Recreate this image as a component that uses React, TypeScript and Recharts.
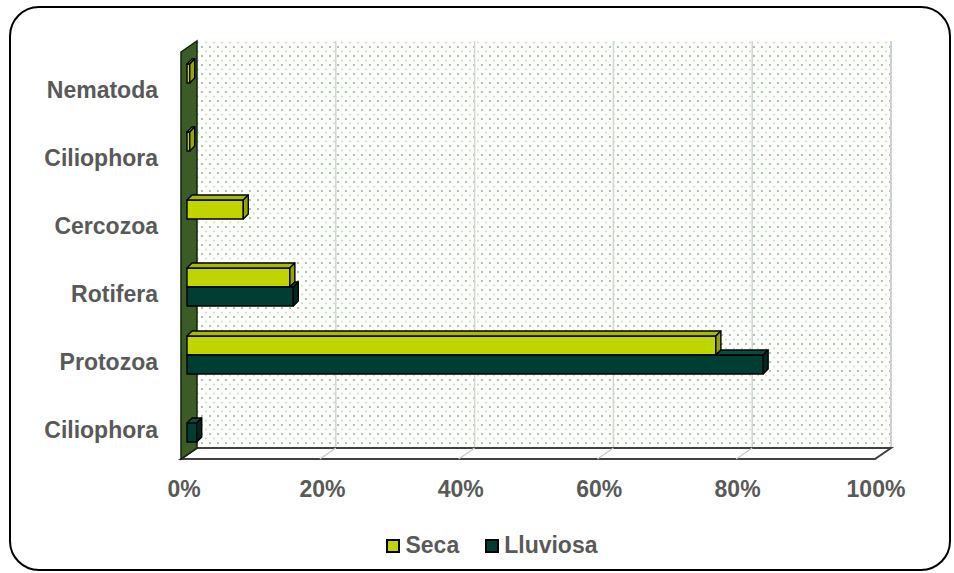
import React from 'react';
import { BarChart, Bar, XAxis, YAxis } from 'recharts';

const categories = ['Nematoda', 'Ciliophora', 'Cercozoa', 'Rotifera', 'Protozoa', 'Ciliophora'];
const seca = [0.4, 0.4, 8.1, 14.8, 76.1, 0];
const lluviosa = [0, 0, 0, 15.3, 82.9, 1.4];
const xTicks = [0, 20, 40, 60, 80, 100];
const seriesNames = ['Seca', 'Lluviosa'];

const data = categories.map((name, i) => ({ idx: i, name, seca: seca[i], lluviosa: lluviosa[i] }));

const FONT = '"Liberation Sans", Arial, sans-serif';
const LABEL = '#595959';

// front plane of the 3D box and its depth
const FRONT = { l: 181, t: 52, r: 875, b: 459 };
const DX = 16;
const DY = -11;
const BAR_D = 5;

const Walls = () => {
  const back = { l: FRONT.l + DX, t: FRONT.t + DY, r: FRONT.r + DX, b: FRONT.b + DY };
  const w = FRONT.r - FRONT.l;
  return (
    <g>
      <defs>
        <pattern id="dots" width="8" height="9" patternUnits="userSpaceOnUse">
          <circle cx="2" cy="2" r="1" fill="#86bd74" />
          <circle cx="6" cy="6.5" r="0.9" fill="#bcdcb0" />
        </pattern>
      </defs>
      <rect x={back.l} y={back.t} width={back.r - back.l} height={back.b - back.t} fill="url(#dots)" />
      {xTicks.slice(1, -1).map((t) => (
        <line key={t} x1={back.l + (w * t) / 100} x2={back.l + (w * t) / 100} y1={back.t} y2={back.b} stroke="#d4d4d4" strokeWidth={1.5} />
      ))}
      <line x1={back.r} x2={back.r} y1={back.t} y2={back.b} stroke="#d0d0d0" strokeWidth={2} />
      <polygon
        points={`${FRONT.l},${FRONT.b} ${back.l},${back.b} ${back.r},${back.b} ${FRONT.r},${FRONT.b}`}
        fill="#ffffff"
        stroke="#404040"
        strokeWidth={2}
      />
      {xTicks.slice(1, -1).map((t) => (
        <line
          key={'f' + t}
          x1={FRONT.l + (w * t) / 100}
          y1={FRONT.b}
          x2={back.l + (w * t) / 100}
          y2={back.b}
          stroke="#c8c8c8"
          strokeWidth={1.2}
        />
      ))}
      <polygon
        points={`${FRONT.l},${FRONT.t} ${back.l},${back.t} ${back.l},${back.b} ${FRONT.l},${FRONT.b}`}
        fill="#3b5b27"
        stroke="#15220c"
        strokeWidth={1.5}
      />
    </g>
  );
};

const Box3D = (props: any) => {
  const { x, y, width, height, front, top, side, cover } = props;
  if (!width || width <= 0.5) return null;
  const w = width;
  const h = height;
  let start = 0;
  let showTop = true;
  if (cover && props.payload) {
    const other = props.payload.seca;
    const own = props.payload.lluviosa;
    if (own > 0) start = Math.min(w, (w * other) / own);
    if (start >= w) showTop = false;
  }
  return (
    <g stroke="#000" strokeWidth={1.4} strokeLinejoin="round">
      <rect x={x} y={y} width={w} height={h} fill={front} />
      {showTop && (
        <polygon
          points={`${x + start},${y} ${x + start + BAR_D},${y - BAR_D} ${x + w + BAR_D},${y - BAR_D} ${x + w},${y}`}
          fill={top}
        />
      )}
      <polygon
        points={`${x + w},${y} ${x + w + BAR_D},${y - BAR_D} ${x + w + BAR_D},${y + h - BAR_D} ${x + w},${y + h}`}
        fill={side}
      />
    </g>
  );
};

const YTick = (props: any) => {
  const { x, y, payload } = props;
  return (
    <text x={x - 29} y={y + 15} textAnchor="end" fill={LABEL} fontSize={23} fontWeight="bold" fontFamily={FONT}>
      {categories[payload.value]}
    </text>
  );
};

const XTick = (props: any) => {
  const { x, y, payload } = props;
  return (
    <text x={x - 3 - (payload.value / 100) * 3} y={y + 40} textAnchor="middle" fill={LABEL} fontSize={23} fontWeight="bold" fontFamily={FONT}>
      {payload.value + '%'}
    </text>
  );
};

const legendColors = ['#c0d400', '#003d33'];

export default function App() {
  return (
    <div style={{ position: 'absolute', left: 0, top: 0, width: 954, height: 573, background: '#fff' }}>
      <div
        style={{
          position: 'absolute',
          left: 9,
          top: 6,
          width: 942,
          height: 565,
          border: '2px solid #000',
          borderRadius: 30,
          boxSizing: 'border-box',
        }}
      />
      <div style={{ position: 'absolute', left: 0, top: 0 }}>
        <BarChart
          width={954}
          height={573}
          data={data}
          layout="vertical"
          barGap={0}
          margin={{ top: 49, right: 72, bottom: 86, left: 0 }}
        >
          <Walls />
          <XAxis
            type="number"
            domain={[0, 100]}
            ticks={xTicks}
            axisLine={false}
            tickLine={false}
            tickSize={0}
            tickMargin={0}
            height={30}
            tick={<XTick />}
            interval={0}
          />
          <YAxis
            type="category"
            dataKey="idx"
            width={187}
            axisLine={false}
            tickLine={false}
            tickSize={0}
            tickMargin={0}
            tick={<YTick />}
            interval={0}
          />
          <Bar
            dataKey="seca"
            name={seriesNames[0]}
            barSize={19}
            isAnimationActive={false}
            shape={<Box3D front="#c0d400" top="#a8b900" side="#96a600" />}
          />
          <Bar
            dataKey="lluviosa"
            name={seriesNames[1]}
            barSize={19}
            isAnimationActive={false}
            shape={<Box3D front="#003d33" top="#0b4a3e" side="#00281f" cover />}
          />
        </BarChart>
      </div>
      <div
        style={{
          position: 'absolute',
          left: 0,
          top: 532,
          width: 954,
          display: 'flex',
          justifyContent: 'center',
          paddingLeft: 30,
          boxSizing: 'border-box',
          fontFamily: FONT,
          fontSize: 23,
          fontWeight: 'bold',
          color: LABEL,
        }}
      >
        {seriesNames.map((n, i) => (
          <div key={n} style={{ display: 'flex', alignItems: 'center', marginRight: i === 0 ? 26 : 0 }}>
            <span
              style={{
                display: 'inline-block',
                width: 10,
                height: 10,
                border: '2px solid #000',
                background: legendColors[i],
                marginRight: 5,
              }}
            />
            <span>{n}</span>
          </div>
        ))}
      </div>
    </div>
  );
}
